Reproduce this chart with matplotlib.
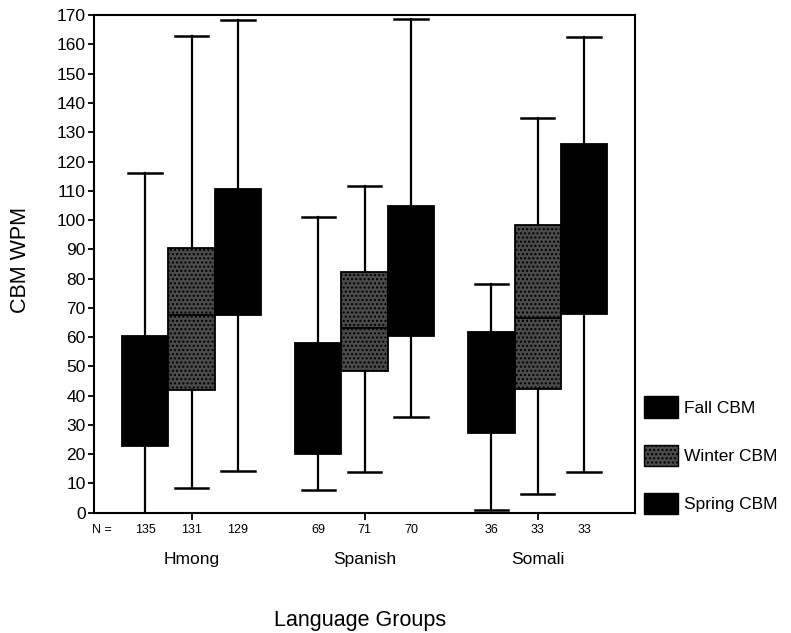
import matplotlib
matplotlib.use("Agg")
import matplotlib.pyplot as plt
from matplotlib.patches import Patch

plt.rcParams["font.family"] = ["Liberation Sans", "DejaVu Sans"]
plt.rcParams["hatch.color"] = "#999999"

groups = ["Hmong", "Spanish", "Somali"]
seasons = ["Fall CBM", "Winter CBM", "Spring CBM"]
n_counts = [[135, 131, 129], [69, 71, 70], [36, 33, 33]]

# per season: one value per language group
fall_low = [0, 7.7, 1.1]
fall_q1 = [22.7, 20.1, 27.1]
fall_med = [40, 38, 45]
fall_q3 = [60.5, 58, 61.7]
fall_high = [116, 101, 78.3]

winter_low = [8.5, 13.9, 6.5]
winter_q1 = [41.8, 48.3, 42.4]
winter_med = [67.7, 63.1, 66.5]
winter_q3 = [90.6, 82.1, 98.4]
winter_high = [163, 111.8, 134.8]

spring_low = [14.4, 32.8, 14.0]
spring_q1 = [67.7, 60.3, 67.9]
spring_med = [88, 82, 95]
spring_q3 = [110.6, 104.7, 125.9]
spring_high = [168.3, 168.6, 162.5]

season_data = [
    (fall_low, fall_q1, fall_med, fall_q3, fall_high),
    (winter_low, winter_q1, winter_med, winter_q3, winter_high),
    (spring_low, spring_q1, spring_med, spring_q3, spring_high),
]
colors = ["black", "#4a4a4a", "black"]

fig = plt.figure(figsize=(7.91, 6.33), dpi=100)
ax = fig.add_axes([0.119, 0.190, 0.684, 0.786])

gap = 3.73
group_pos = [g * gap + 1 for g in range(len(groups))]

for s, (lo, q1, med, q3, hi) in enumerate(season_data):
    stats = []
    pos = []
    for g in range(len(groups)):
        stats.append(dict(whislo=lo[g], q1=q1[g], med=med[g], q3=q3[g],
                          whishi=hi[g], fliers=[]))
        pos.append(g * gap + s)
    bp = ax.bxp(stats, positions=pos, widths=1.0, patch_artist=True,
                showfliers=False,
                boxprops=dict(facecolor=colors[s], edgecolor="black", linewidth=1.3),
                medianprops=dict(color="black", linewidth=1.3),
                whiskerprops=dict(color="black", linewidth=1.6),
                capprops=dict(color="black", linewidth=1.8),
                capwidths=0.72)
    if s == 1:
        for b in bp["boxes"]:
            b.set_hatch("....")

ax.set_xlim(-1.1, 2 * gap + 2 + 1.1)
ax.set_ylim(0, 170)
ax.set_yticks(range(0, 171, 10))
ax.tick_params(axis="y", labelsize=12.5, length=4, width=1.3, pad=2)
ax.set_xticks(group_pos)
ax.set_xticklabels([])
ax.tick_params(axis="x", length=5, width=1.3)
for sp in ax.spines.values():
    sp.set_linewidth(1.5)

# N labels and group names below the axis
for g in range(len(groups)):
    for s in range(3):
        ax.text(g * gap + s, -6, str(n_counts[g][s]), ha="center", va="center",
                fontsize=9, clip_on=False)
    ax.text(group_pos[g], -16, groups[g], ha="center", va="center",
            fontsize=12.5, clip_on=False)
ax.text(-1.15, -6, "N =", ha="left", va="center", fontsize=9, clip_on=False)

fig.text(0.455, 0.020, "Language Groups", ha="center", va="center", fontsize=15.5)
fig.text(0.026, 0.59, "CBM WPM", ha="center", va="center", rotation=90, fontsize=15.5)

handles = [Patch(facecolor=colors[i], edgecolor="black",
                 hatch="...." if i == 1 else None) for i in range(3)]
fig.legend(handles, seasons, loc="center left", bbox_to_anchor=(0.805, 0.281),
           frameon=False, fontsize=12.5, handlelength=2.0, handleheight=1.5,
           labelspacing=1.55, handletextpad=0.3, borderaxespad=0)

fig.savefig("out.png", dpi=100)
